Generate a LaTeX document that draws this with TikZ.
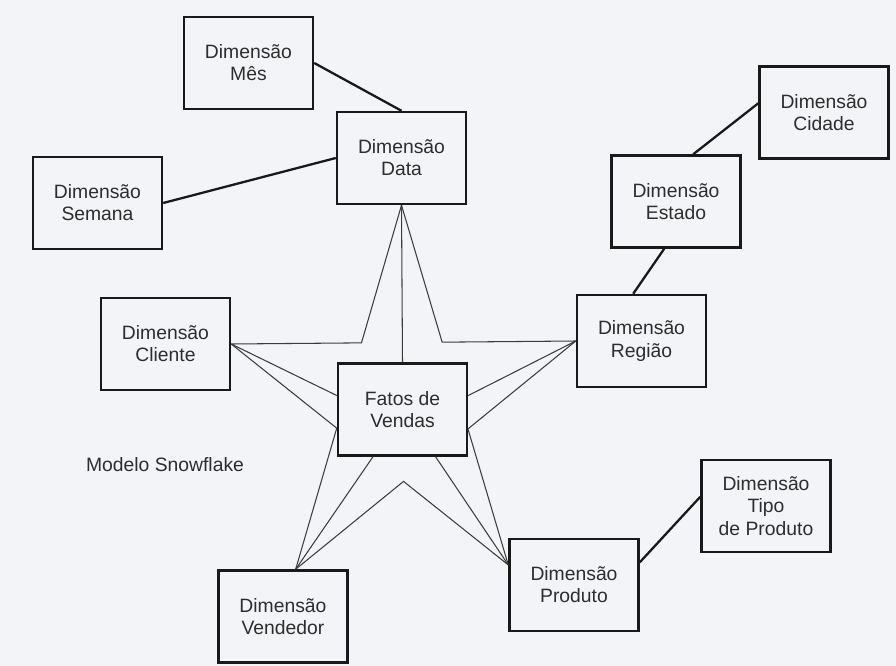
\documentclass[tikz,border=0pt]{standalone}
\usepackage{fontspec}
\setmainfont{Liberation Sans}
\usetikzlibrary{backgrounds}
\definecolor{paper}{RGB}{243,244,248}
\definecolor{ink}{RGB}{25,25,25}
\definecolor{txt}{RGB}{45,45,45}

\begin{document}
\begin{tikzpicture}[
    x=0.02cm, y=-0.02cm,
    dim/.style={draw=ink, line width=1.4pt, fill=paper, minimum width=2.58cm, minimum height=1.84cm,
        inner sep=0pt, align=center, text=txt, font=\fontsize{11}{12.6}\selectfont},
    link/.style={draw=ink, line width=1.3pt},
    star/.style={draw=ink!85, line width=0.6pt, line join=miter}
]
\useasboundingbox (0,0) rectangle (896,666);

% Dimensoes de tempo
\node[dim] (mes) at (248.5,63) {Dimensão\\Mês};
\node[dim] (data) at (401.5,158) {Dimensão\\Data};
\node[dim] (semana) at (97.5,203) {Dimensão\\Semana};

% Dimensoes de local
\node[dim] (cidade) at (824,112.5) {Dimensão\\Cidade};
\node[dim] (estado) at (676,201.5) {Dimensão\\Estado};
\node[dim] (regiao) at (641.5,341) {Dimensão\\Região};

% Demais dimensoes
\node[dim] (cliente) at (165.5,344) {Dimensão\\Cliente};
\node[dim] (vend) at (283,616.5) {Dimensão\\Vendedor};
\node[dim] (prod) at (574,585) {Dimensão\\Produto};
\node[dim] (tipo) at (766,506) {Dimensão\\Tipo\\de Produto};

% Fato
\node[dim] (fatos) at (402.5,409.5) {Fatos de\\Vendas};

\node[text=txt, font=\fontsize{11}{13}\selectfont] (titulo) at (165,465) {Modelo Snowflake};

% Hierarquias (snowflake)
\draw[link] (mes.east) -- (data.north);
\draw[link] (semana.east) -- (data.west);
\draw[link] (estado.70) -- (cidade.172);
\draw[link] (regiao.100) -- (estado.-104);
\draw[link] (prod.19) -- (tipo.172);

% Estrela ligando as dimensoes ao fato
\coordinate (dc) at (intersection of data.south--vend.75 and cliente.east--regiao.west);
\coordinate (dr) at (intersection of data.south--prod.163 and cliente.east--regiao.west);
\coordinate (rp) at (intersection of regiao.west--vend.75 and prod.163--data.south);
\coordinate (pv) at (intersection of prod.163--cliente.east and vend.75--regiao.west);
\coordinate (vc) at (intersection of vend.75--data.south and cliente.east--prod.163);

\begin{scope}[on background layer]
\fill[paper] (0,0) rectangle (896,666);
\draw[star] (data.south) -- (dr) -- (regiao.west) -- (rp) -- (prod.163) -- (pv)
    -- (vend.75) -- (vc) -- (cliente.east) -- (dc) -- cycle;
\end{scope}
\draw[star] (data.south) -- (fatos.north);
\draw[star] (cliente.east) -- (fatos.168);
\draw[star] (regiao.west) -- (fatos.12);
\draw[star] (vend.75) -- (fatos.-122);
\draw[star] (prod.163) -- (fatos.-55);

\end{tikzpicture}
\end{document}
